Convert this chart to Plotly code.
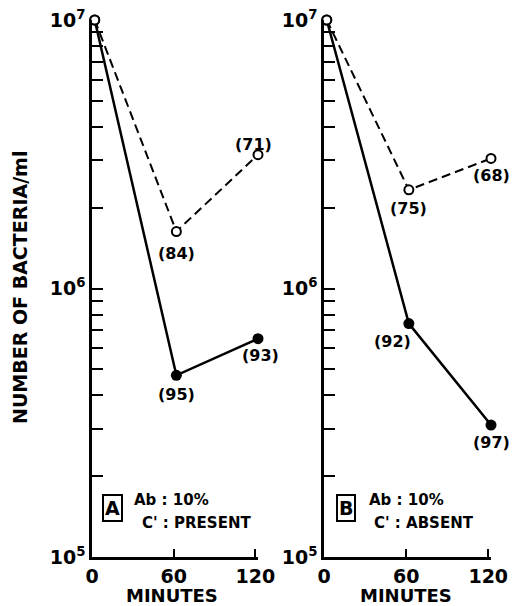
import math
import plotly.graph_objects as go

# ---- data ----
minutes = [2, 62, 122]
a_dashed = [1.0e7, 1.63e6, 3.15e6]   # panel A, open circles
a_solid = [1.0e7, 4.75e5, 6.5e5]     # panel A, filled circles
b_dashed = [1.0e7, 2.33e6, 3.05e6]   # panel B, open circles
b_solid = [1.0e7, 7.4e5, 3.1e5]      # panel B, filled circles
a_dashed_n = ["", "(84)", "(71)"]
a_solid_n = ["", "(95)", "(93)"]
b_dashed_n = ["", "(75)", "(68)"]
b_solid_n = ["", "(92)", "(97)"]
x_tickvals = [0, 60, 120]
x_ticktext = ["0", "60", "120"]
y_tickvals = [m * 10 ** e for e in (5, 6) for m in range(1, 10)] + [1e7]
y_ticktext = ["10<sup>%d</sup>" % round(math.log10(v)) if abs(math.log10(v) - round(math.log10(v))) < 1e-9 else " "
              for v in y_tickvals]

W, H = 518, 606
FONT = "DejaVu Sans"

def px_x(p):
    return p / W

def px_y(p):
    return 1 - p / H

fig = go.Figure()

def add_panel(xa, ya, solid, dashed):
    fig.add_trace(go.Scatter(x=minutes, y=solid, mode="lines+markers", xaxis=xa, yaxis=ya,
                             line=dict(color="black", width=2.5),
                             marker=dict(symbol="circle", size=11, color="black"),
                             cliponaxis=False, showlegend=False))
    fig.add_trace(go.Scatter(x=minutes, y=dashed, mode="lines+markers", xaxis=xa, yaxis=ya,
                             line=dict(color="black", width=2, dash="9px,5px"),
                             marker=dict(symbol="circle", size=9, color="white",
                                         line=dict(color="black", width=2)),
                             cliponaxis=False, showlegend=False))

add_panel("x", "y", a_solid, a_dashed)
add_panel("x2", "y2", b_solid, b_dashed)

ydom = [px_y(557), px_y(20)]
common_x = dict(range=[0, 122], showline=True, linewidth=2.5, linecolor="black",
                ticks="inside", ticklen=8, tickwidth=2, tickcolor="black",
                tickvals=x_tickvals, ticktext=x_ticktext, showgrid=False, zeroline=False,
                tickfont=dict(family=FONT, size=19, color="black", weight="bold"),
                automargin=False, fixedrange=True)
common_y = dict(type="log", range=[5, 7], domain=ydom, showline=True, linewidth=2.5,
                linecolor="black", ticks="inside", ticklen=11, tickwidth=2, tickcolor="black",
                tickvals=y_tickvals, ticktext=y_ticktext, showgrid=False, zeroline=False,
                tickfont=dict(family=FONT, size=19, color="black", weight="bold"),
                automargin=False, fixedrange=True)

fig.update_layout(
    width=W, height=H,
    margin=dict(l=0, r=0, t=0, b=0),
    paper_bgcolor="white", plot_bgcolor="white",
    xaxis=dict(domain=[px_x(92), px_x(258)], anchor="y", **common_x),
    yaxis=dict(anchor="x", **common_y),
    xaxis2=dict(domain=[px_x(324), px_x(491)], anchor="y2", **common_x),
    yaxis2=dict(anchor="x2", **common_y),
)

lab_font = dict(family=FONT, size=16, color="black", weight="bold")
annotations = []

def add_labels(xr, yr, values, labels, shifts):
    for xv, yv, lab, (dx, dy) in zip(minutes, values, labels, shifts):
        if not lab:
            continue
        annotations.append(dict(x=xv, y=math.log10(yv), xref=xr, yref=yr, text=lab,
                                showarrow=False, xshift=dx, yshift=dy, font=lab_font,
                                xanchor="center", yanchor="middle"))

add_labels("x", "y", a_dashed, a_dashed_n, [(0, 0), (0, -22), (-5, 10)])
add_labels("x", "y", a_solid, a_solid_n, [(0, 0), (0, -19), (2, -17)])
add_labels("x2", "y2", b_dashed, b_dashed_n, [(0, 0), (0, -19), (0, -17)])
add_labels("x2", "y2", b_solid, b_solid_n, [(0, 0), (-16, -18), (0, -17)])

def paper_text(x, y, text, size, xanchor="center", **kw):
    annotations.append(dict(x=px_x(x), y=px_y(y), xref="paper", yref="paper", text=text,
                            showarrow=False, xanchor=xanchor, yanchor="middle",
                            font=dict(family=FONT, size=size, color="black", weight="bold"), **kw))

# y-axis title
paper_text(20, 288, "NUMBER OF BACTERIA/ml", 19, textangle=-90)
# x-axis titles
for cx in (172, 406):
    paper_text(cx, 595, "MINUTES", 18)

# panel boxes and conditions
for letter, bx, cond, tx1, tx2 in (("A", 112, "PRESENT", 132, 140), ("B", 346, "ABSENT", 367, 372)):
    paper_text(bx, 508, letter, 19, bordercolor="black", borderwidth=2, borderpad=1)
    paper_text(tx1, 500, "Ab : 10%", 15, xanchor="left")
    paper_text(tx2, 523, "C' : " + cond, 15, xanchor="left")

fig.update_layout(annotations=annotations)
fig.write_html("out.html", config={"displayModeBar": False},
               post_script="document.body.style.margin='0';document.body.style.overflow='hidden';")
